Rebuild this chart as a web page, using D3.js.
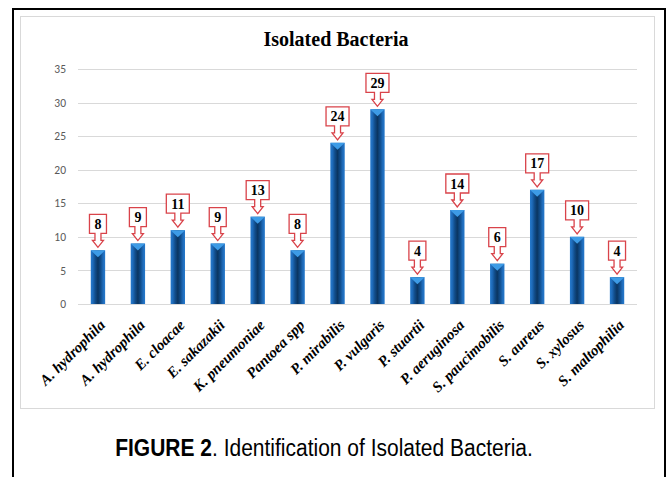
<!DOCTYPE html>
<html>
<head>
<meta charset="utf-8">
<script src="https://cdn.jsdelivr.net/npm/d3@7"></script>
<style>
  body { margin: 0; background: #fff; }
  svg { display: block; }
</style>
</head>
<body>
<script>
// data
let bacteria = ['A. hydrophila', 'A. hydrophila', 'E. cloacae', 'E. sakazakii', 'K. pneumoniae',
                'Pantoea spp', 'P. mirabilis', 'P. vulgaris', 'P. stuartii', 'P. aeruginosa',
                'S. paucimobilis', 'S. aureus', 'S. xylosus', 'S. maltophilia']
let counts = [8, 9, 11, 9, 13, 8, 24, 29, 4, 14, 6, 17, 10, 4]
let yTicks = [0, 5, 10, 15, 20, 25, 30, 35]

let W = 670, H = 477
let plot = {left: 78, right: 637, top: 69, bottom: 304}

let svg = d3.select('body').append('svg')
            .attr('width', W)
            .attr('height', H)

// gradient for the bevelled columns
let defs = svg.append('defs')
let grad = defs.append('linearGradient').attr('id', 'barGrad')
    .attr('x1', '0%').attr('x2', '100%').attr('y1', '0%').attr('y2', '0%')
let stops = [[0, '#2579cc'], [0.14, '#1f6cbb'], [0.3, '#124f8e'], [0.5, '#0a3561'],
             [0.7, '#124f8e'], [0.86, '#1f6cbb'], [1, '#2579cc']]
stops.forEach(s => grad.append('stop').attr('offset', s[0]).attr('stop-color', s[1]))

// outer frame (black) and chart frame (light grey)
svg.append('path')
    .attr('d', `M13,${H} V9 H665 V${H}`)
    .attr('fill', 'none').attr('stroke', '#000').attr('stroke-width', 2)
svg.append('rect')
    .attr('x', 20.5).attr('y', 16.5).attr('width', 634).attr('height', 392)
    .attr('fill', '#fff').attr('stroke', '#d9d9d9').attr('stroke-width', 1)

let x = d3.scaleBand()
          .domain(d3.range(bacteria.length))
          .range([plot.left, plot.right])
          .paddingInner(0.64).paddingOuter(0.32)

let y = d3.scaleLinear().domain([0, 35]).range([plot.bottom, plot.top])

// grid
svg.append('g').selectAll('line')
    .data(yTicks)
    .join('line')
    .attr('x1', plot.left).attr('x2', plot.right)
    .attr('y1', d => Math.round(y(d)) + 0.5).attr('y2', d => Math.round(y(d)) + 0.5)
    .attr('stroke', '#d9d9d9').attr('stroke-width', 1)

// y axis labels
let yAxis = svg.append('g')
    .attr('transform', `translate(${plot.left - 12},0)`)
    .call(d3.axisLeft(y).tickValues(yTicks).tickSize(0).tickPadding(0))
yAxis.select('.domain').remove()
yAxis.selectAll('text')
    .attr('fill', '#595959')
    .style('font-family', 'Carlito, "Liberation Sans", Arial, sans-serif')
    .style('font-size', '11.5px')

// title
svg.append('text')
    .attr('x', 336).attr('y', 46)
    .attr('text-anchor', 'middle')
    .style('font-family', '"Liberation Serif", "Times New Roman", serif')
    .style('font-weight', 'bold')
    .style('font-size', '20px')
    .text('Isolated Bacteria')

// bars
let bars = svg.append('g').selectAll('g')
    .data(counts)
    .join('g')

bars.append('rect')
    .attr('x', (d, i) => x(i))
    .attr('y', d => y(d))
    .attr('width', x.bandwidth())
    .attr('height', d => y(0) - y(d))
    .attr('fill', 'url(#barGrad)')

bars.append('path')
    .attr('d', (d, i) => {
        let x0 = x(i), x1 = x(i) + x.bandwidth(), cx = x0 + x.bandwidth() / 2, t = y(d)
        return `M${x0},${t} H${x1} L${x1 - 2},${t + 2} L${cx},${t + 7} L${x0 + 2},${t + 2} Z`
    })
    .attr('fill', '#3d9be6')

// callout labels
let callouts = svg.append('g').selectAll('g')
    .data(counts)
    .join('g')
    .attr('transform', (d, i) => `translate(${x(i) + x.bandwidth() / 2},${y(d) - 3})`)

callouts.append('path')
    .attr('d', d => {
        let bw = d >= 10 ? 23 : 17
        let hw = bw / 2, sw = 3, aw = 5.5
        // tip at 0, arrowhead 7 tall, stem 7, box 19
        return `M0,0 L${-aw},-7 L${-sw},-7 L${-sw},-14 L${-hw},-14 L${-hw},-33 ` +
               `L${hw},-33 L${hw},-14 L${sw},-14 L${sw},-7 L${aw},-7 Z`
    })
    .attr('fill', '#fff')
    .attr('stroke', '#d9434a')
    .attr('stroke-width', 1.3)
    .attr('stroke-linejoin', 'miter')

callouts.append('text')
    .attr('y', -18.5)
    .attr('text-anchor', 'middle')
    .style('font-family', '"Liberation Serif", "Times New Roman", serif')
    .style('font-weight', 'bold')
    .style('font-size', '14px')
    .text(d => d)

// category labels
svg.append('g').selectAll('text')
    .data(bacteria)
    .join('text')
    .attr('transform', (d, i) => `translate(${x(i) + x.bandwidth() / 2 + 8},${plot.bottom + 22}) rotate(-45)`)
    .attr('text-anchor', 'end')
    .style('font-family', '"Liberation Serif", "Times New Roman", serif')
    .style('font-weight', 'bold')
    .style('font-style', 'italic')
    .style('font-size', '15px')
    .text(d => d)

// caption
let cap = svg.append('text')
    .attr('transform', 'translate(324,456) scale(1,1.1)')
    .attr('text-anchor', 'middle')
    .style('font-family', '"Liberation Sans", Arial, sans-serif')
    .style('font-size', '21px')
cap.append('tspan').style('font-weight', 'bold').text('FIGURE 2')
cap.append('tspan').text('. Identification of Isolated Bacteria.')
</script>
</body>
</html>
